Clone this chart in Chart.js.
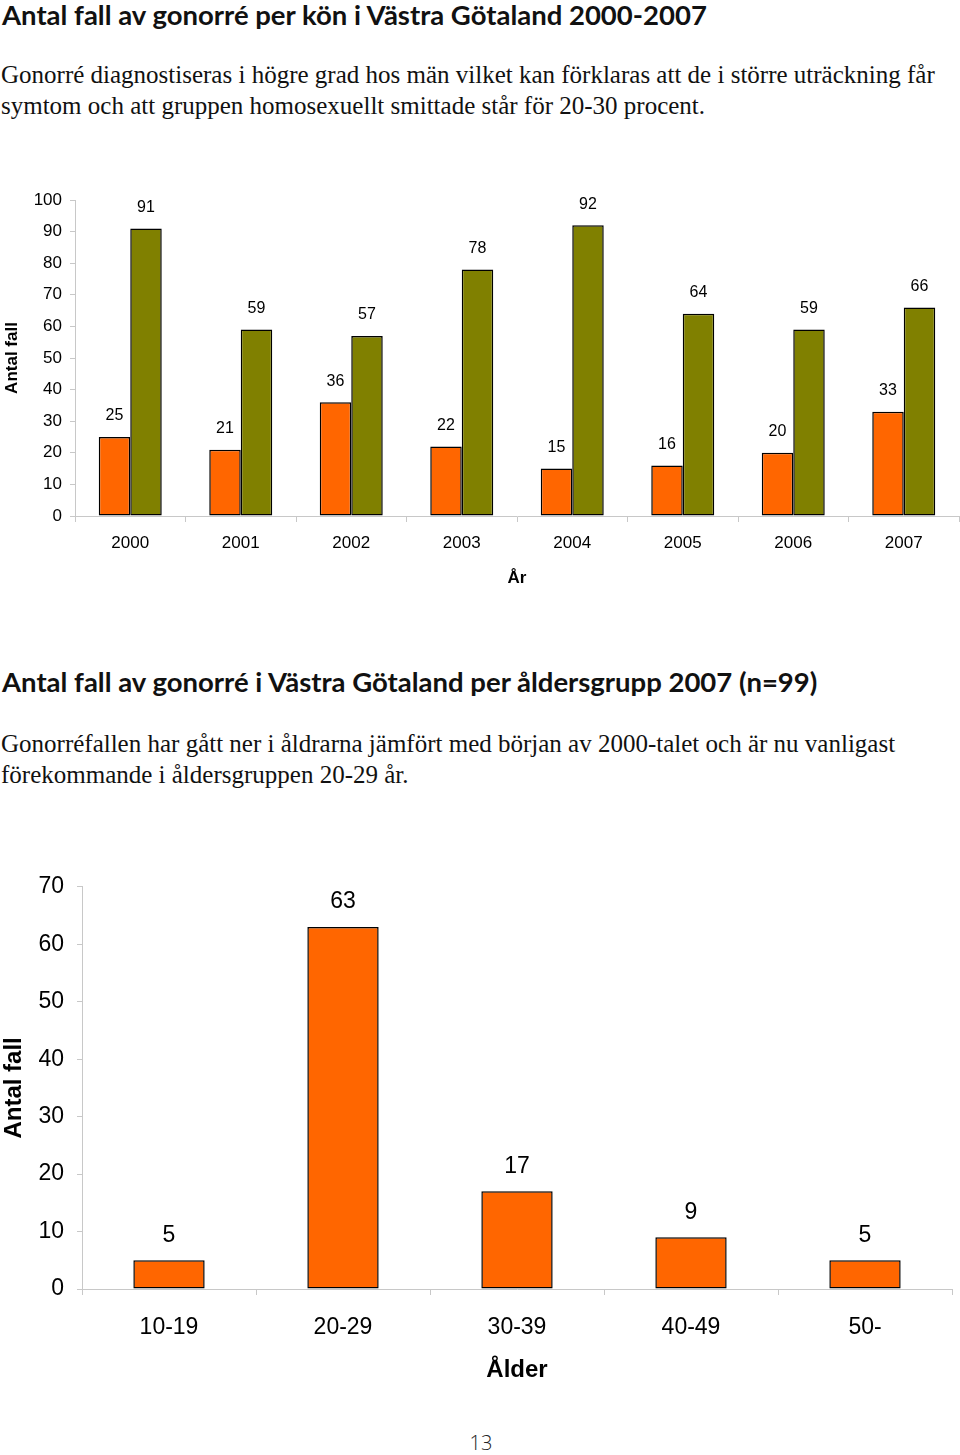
<!DOCTYPE html>
<html>
<head>
<meta charset="utf-8">
<script src="https://cdn.jsdelivr.net/npm/chart.js@4"></script>
<style>
  body { margin: 0; background: #fff; width: 960px; height: 1455px; position: relative; overflow: hidden; }
  .rubrik { position: absolute; left: 2px; font-family: Lato, "Open Sans", sans-serif; font-weight: 700; font-size: 27.5px; line-height: 30px; color: #111; white-space: nowrap; }
  .text { position: absolute; left: 1px; font-family: "Liberation Serif", serif; font-size: 25px; line-height: 31px; color: #111; white-space: nowrap; }
  canvas { position: absolute; left: 0; }
  .sida { position: absolute; left: 440px; width: 82px; text-align: center; top: 1430px; font-family: "Open Sans", sans-serif; font-weight: 300; font-size: 20px; line-height: 26px; color: #222; }
</style>
</head>
<body>
<div class="rubrik" style="top:0px">Antal fall av gonorré per kön i Västra Götaland 2000-2007</div>
<div class="text" style="top:59px">Gonorré diagnostiseras i högre grad hos män vilket kan förklaras att de i större uträckning får<br>symtom och att gruppen homosexuellt smittade står för 20-30 procent.</div>
<canvas id="kon" width="960" height="420" style="top:180px"></canvas>

<div class="rubrik" style="top:667px">Antal fall av gonorré i Västra Götaland per åldersgrupp 2007 (n=99)</div>
<div class="text" style="top:728px">Gonorréfallen har gått ner i åldrarna jämfört med början av 2000-talet och är nu vanligast<br>förekommande i åldersgruppen 20-29 år.</div>
<canvas id="alder" width="960" height="540" style="top:860px"></canvas>

<div class="sida">13</div>

<script>
// data
var years = ['2000', '2001', '2002', '2003', '2004', '2005', '2006', '2007']
var kvinnor = [25, 21, 36, 22, 15, 16, 20, 33]
var man = [91, 59, 57, 78, 92, 64, 59, 66]
var ageGroups = ['10-19', '20-29', '30-39', '40-49', '50-']
var ageCounts = [5, 63, 17, 9, 5]

const arial = '"Liberation Sans", Arial, sans-serif';

// siffror ovanför staplarna
const valueLabels = {
  id: 'valueLabels',
  afterDatasetsDraw(chart, args, opts) {
    const ctx = chart.ctx;
    ctx.save();
    ctx.font = opts.size + 'px ' + arial;
    ctx.fillStyle = '#000';
    ctx.textAlign = 'center';
    ctx.textBaseline = 'middle';
    chart.data.datasets.forEach((ds, i) => {
      chart.getDatasetMeta(i).data.forEach((bar, j) => {
        ctx.fillText(ds.data[j], bar.x, bar.y - opts.offset);
      });
    });
    ctx.restore();
  }
};

function axes(yWidth, xHeight, max, sizes) {
  return {
    x: {
      afterFit: s => { s.height = xHeight; },
      grid: { offset: true, drawOnChartArea: false, tickLength: 6, color: '#c8c8c8' },
      border: { color: '#c8c8c8' },
      ticks: { color: '#000', padding: sizes.xPad, font: { family: arial, size: sizes.tick } },
      title: { display: true, text: sizes.xTitle, color: '#000', padding: { top: 0, bottom: sizes.xTitlePad },
               font: { family: arial, size: sizes.title, weight: 'bold' } }
    },
    y: {
      min: 0, max: max,
      afterFit: s => { s.width = yWidth; },
      grid: { drawOnChartArea: false, tickLength: 5, color: '#c8c8c8' },
      border: { color: '#c8c8c8' },
      ticks: { stepSize: 10, color: '#000', padding: sizes.yPad, font: { family: arial, size: sizes.tick } },
      title: { display: true, text: 'Antal fall', color: '#000', padding: { top: sizes.yTitlePad, bottom: 0 },
               font: { family: arial, size: sizes.title, weight: 'bold' } }
    }
  };
}

new Chart(document.getElementById('kon'), {
  type: 'bar',
  data: {
    labels: years,
    datasets: [
      { label: 'Kvinnor', data: kvinnor, backgroundColor: '#ff6600', borderColor: '#000', borderWidth: 1.5, borderSkipped: false },
      { label: 'Män', data: man, backgroundColor: '#808000', borderColor: '#000', borderWidth: 1.5, borderSkipped: false }
    ]
  },
  options: {
    responsive: false,
    animation: false,
    categoryPercentage: 0.57,
    barPercentage: 1,
    layout: { padding: { top: 20, right: 1, left: 0, bottom: 0 } },
    plugins: { legend: { display: false }, tooltip: { enabled: false }, valueLabels: { size: 16, offset: 21 } },
    scales: axes(75, 84, 100, { tick: 17, title: 17, xPad: 11, yPad: 8, xTitle: 'År', xTitlePad: 11, yTitlePad: 2 })
  },
  plugins: [valueLabels]
});

new Chart(document.getElementById('alder'), {
  type: 'bar',
  data: {
    labels: ageGroups,
    datasets: [
      { label: 'Antal fall', data: ageCounts, backgroundColor: '#ff6600', borderColor: '#000', borderWidth: 1.5, borderSkipped: false }
    ]
  },
  options: {
    responsive: false,
    animation: false,
    categoryPercentage: 0.41,
    barPercentage: 1,
    layout: { padding: { top: 24, right: 8, left: 0, bottom: 0 } },
    plugins: { legend: { display: false }, tooltip: { enabled: false }, valueLabels: { size: 23, offset: 25 } },
    scales: axes(82, 111, 70, { tick: 23, title: 24, xPad: 19, yPad: 13, xTitle: 'Ålder', xTitlePad: 15, yTitlePad: 0 })
  },
  plugins: [valueLabels]
});
</script>
</body>
</html>
